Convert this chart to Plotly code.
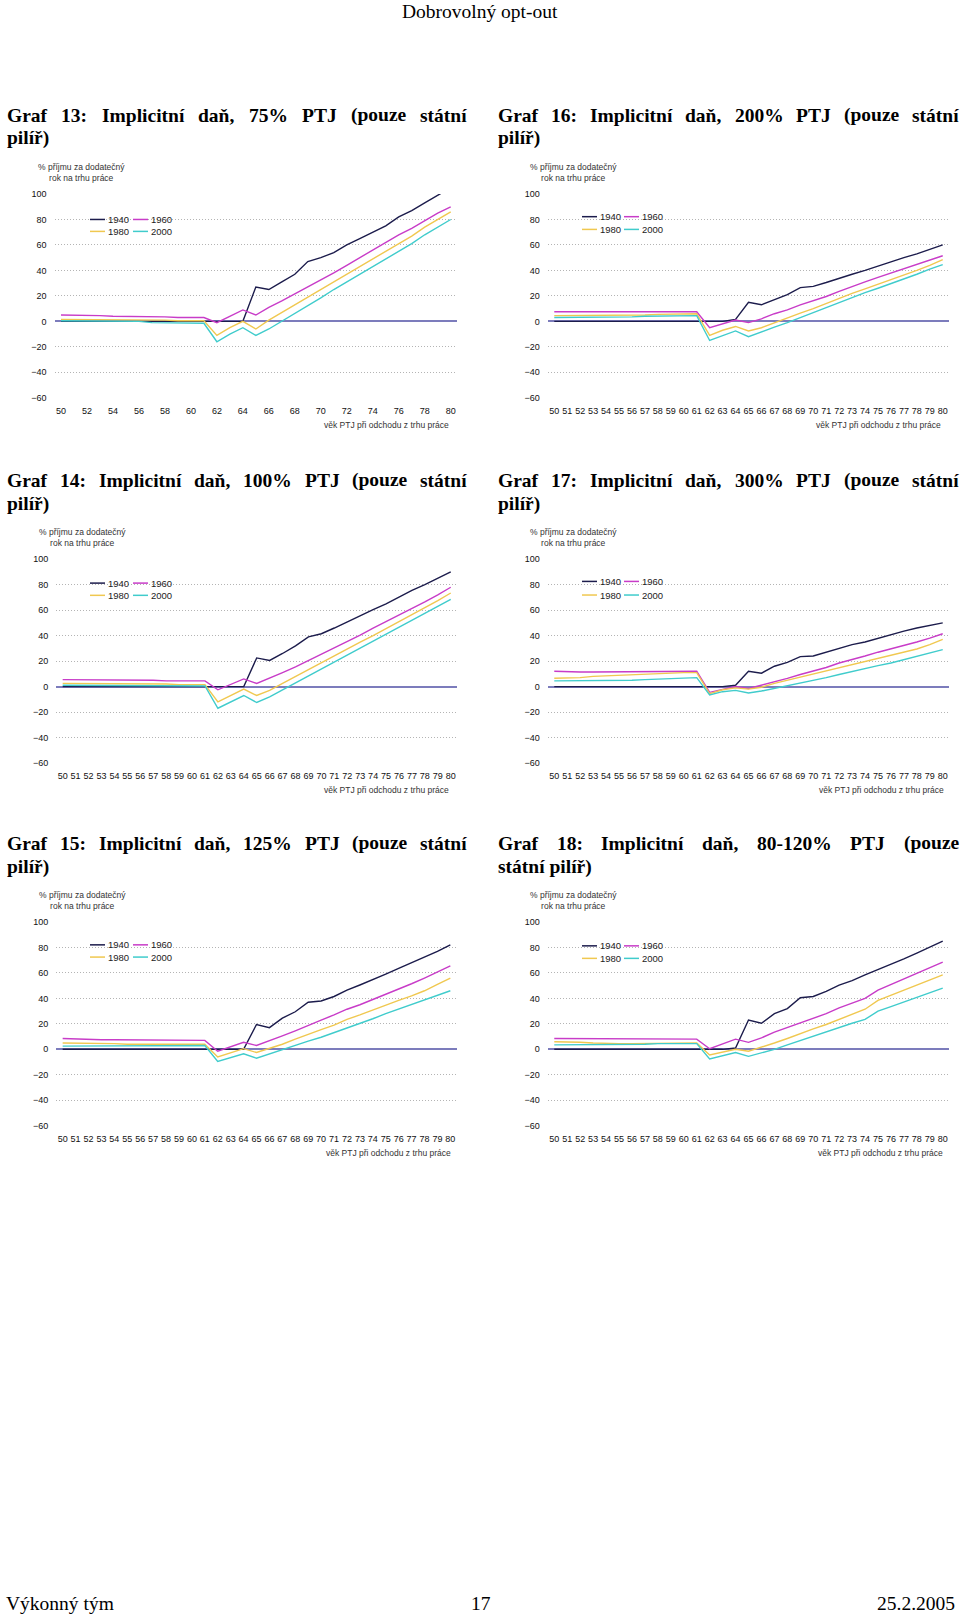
import plotly.graph_objects as go

# ---------------- data ----------------
AGES = list(range(50, 81))
COHORTS = ["1940", "1960", "1980", "2000"]
COLORS = ["#1c1c4c", "#c83cc8", "#f0c850", "#40cccc"]

# Graf 13: 75% PTJ
g13_1940 = [0, 0, 0, 0, 0, 0, 0, 0, 0, 0, 0, 0, 0, 0, 0, 27, 25, 31, 37, 47, 50, 54, 60, 65, 70, 75, 82, 87, 93, 99, 105]
g13_1960 = [5, 5, 4.5, 4.5, 4, 4, 4, 3.5, 3.5, 3, 3, 3, -1, 4, 9, 5, 11, 16, 21.5, 27, 32, 38, 44, 50, 56, 62, 68, 73, 79, 85, 90]
g13_1980 = [1.5, 1.5, 1, 1, 1, 1, 1, 1, 1, 0.5, 0.5, 0.5, -11, -5, 0, -6, 1, 7, 13, 19, 25, 31, 37, 43, 49, 55, 61, 67, 74, 80, 86]
g13_2000 = [0.5, 0.5, 0.5, 0, 0, 0, 0, -1, -1, -1.5, -1.5, -1.5, -16, -10, -5, -11, -6, 0, 6, 12, 18.5, 25, 31, 37, 43, 49, 55, 61, 68, 74, 80]

# Graf 16: 200% PTJ
g16_1940 = [0, 0, 0, 0, 0, 0, 0, 0, 0, 0, 0, 0, 0, 0, 1.5, 15, 13, 17, 21, 26.5, 27.5, 30.5, 34, 37, 40, 43.5, 46.5, 50, 53, 56.5, 60]
g16_1960 = [7.5, 7.5, 7.5, 7, 7, 7, 7, 7, 7.5, 7.5, 7.5, 7.5, -5, -2, 1, -1, 2, 6, 9, 13, 16, 19.5, 23.5, 27.5, 31, 34.5, 38, 41, 44.5, 48, 51.5]
g16_1980 = [4.5, 4.5, 4.5, 5, 5, 5, 5, 5, 5.5, 5.5, 5.5, 6, -11, -7, -4, -7.5, -5, -1, 2.5, 6.5, 10, 14, 18.5, 22, 25.5, 29, 32.5, 36, 40, 44, 48.5]
g16_2000 = [3, 3, 3, 3.5, 3.5, 3.5, 3.5, 4, 4, 4, 4.5, 4.5, -15, -11, -7.5, -12, -8, -4.5, -1, 3, 7, 10.5, 15, 19, 22.5, 26, 29.5, 33, 37, 41, 44.5]

# Graf 14: 100% PTJ
g14_1940 = [0, 0, 0, 0, 0, 0, 0, 0, 0, 0, 0, 0, 0, 0, 0, 22.5, 20.5, 26, 32, 39, 41.5, 46, 51, 55.5, 60.5, 65, 70.5, 75.5, 80, 85, 90]
g14_1960 = [5.5, 5.5, 5.5, 5, 5, 5, 5, 5, 4.5, 4.5, 4.5, 4.5, -2.5, 1.5, 6, 2.5, 6.5, 11, 15.5, 20.5, 25.5, 30, 35.5, 40.5, 46, 51, 56.5, 61.5, 66.5, 72, 78]
g14_1980 = [2.5, 2.5, 2.5, 2.5, 2, 2, 2, 2, 2, 1.5, 1.5, 1.5, -12, -7, -2, -7, -3, 2.5, 8, 13.5, 19, 24, 29.5, 35, 40, 45.5, 50.5, 56, 61.5, 67.5, 73.5]
g14_2000 = [1, 1, 1, 1, 1, 1, 1, 0.5, 0.5, 0.5, 0.5, 0.5, -17, -12, -7, -12.5, -8, -2.5, 3, 8.5, 14, 19.5, 25, 30.5, 36, 41, 46.5, 52, 57.5, 63, 68.5]

# Graf 17: 300% PTJ
g17_1940 = [0, 0, 0, 0, 0, 0, 0, 0, 0, 0, 0, 0, 0, 0, 1, 12, 10.5, 16, 19, 23.5, 24, 27, 30, 33, 35, 38, 41, 43.5, 46, 48, 50]
g17_1960 = [12, 11.5, 11.5, 11.5, 11.5, 11.5, 11.5, 11.5, 11.5, 11.5, 11.5, 12, -4.5, -2, 0, -1.5, 1, 4, 6.5, 9.5, 12, 15, 18.5, 21, 24, 27, 29.5, 32.5, 35, 38, 41.5]
g17_1980 = [6.5, 6.5, 7, 8, 8.5, 9, 9.5, 10, 10.5, 10.5, 11, 11, -5.5, -2.5, -1, -2, -0.5, 2.5, 5, 7.5, 9.5, 12, 15, 17.5, 19.5, 22, 24.5, 27, 29.5, 33, 37]
g17_2000 = [4.5, 4.5, 4.5, 5, 5, 5, 5, 5.5, 6, 6.5, 6.5, 7, -6.5, -4, -3, -5, -3.5, -1.5, 1, 3, 5, 7, 9.5, 12, 14, 16.5, 18.5, 21, 23.5, 26, 29]

# Graf 15: 125% PTJ
g15_1940 = [0, 0, 0, 0, 0, 0, 0, 0, 0, 0, 0, 0, 0, 0, 0, 19.5, 17, 24.5, 29.5, 37, 38, 41.5, 46.5, 50.5, 54.5, 59, 63.5, 68, 72, 77, 82]
g15_1960 = [8.5, 8, 8, 7.5, 7.5, 7.5, 7.5, 7, 7, 7, 7, 7, -1.5, 2, 5.5, 3, 6.5, 10.5, 14.5, 19, 23, 27, 31.5, 35, 39, 43, 47.5, 51.5, 56, 60.5, 65.5]
g15_1980 = [5, 5, 5, 4.5, 4.5, 4, 4, 4, 4, 4, 4, 4, -6, -2.5, 0.5, -2.5, 0.5, 4, 8, 12, 15.5, 19, 23.5, 27, 31, 34.5, 38.5, 42, 46, 51, 56]
g15_2000 = [2.5, 2.5, 2.5, 2.5, 2.5, 2.5, 2.5, 3, 3, 3, 3, 3, -9.5, -6.5, -3.5, -7, -3.5, 0, 3, 6.5, 9.5, 13, 17, 20.5, 24, 28, 31.5, 35, 38.5, 42, 46]

# Graf 18: 80-120% PTJ
g18_1940 = [0, 0, 0, 0, 0, 0, 0, 0, 0, 0, 0, 0, 0, 0, 1, 23, 20.5, 28, 32, 40.5, 41.5, 45.5, 50.5, 54, 58.5, 62.5, 66.5, 71, 75.5, 80, 85]
g18_1960 = [8.5, 8.5, 8, 8, 8, 8, 8, 8, 8, 8, 8, 8, 0.5, 4.5, 8, 5.5, 9, 13.5, 17, 21, 24, 28, 32.5, 36.5, 40, 46.5, 51, 55, 60, 64, 68.5]
g18_1980 = [6, 6, 5.5, 5, 4.5, 4.5, 4.5, 4.5, 5, 5, 5, 5, -4.5, -2, 0, -1.5, 1.5, 5, 8.5, 12.5, 16, 19.5, 23.5, 27.5, 31.5, 38.5, 42.5, 46.5, 50.5, 54.5, 58.5]
g18_2000 = [3.5, 3.5, 3.5, 3.5, 3.5, 4, 4, 4, 4.5, 4.5, 4.5, 4.5, -7.5, -5, -2.5, -5.5, -3, 0, 3.5, 7, 10, 13.5, 17, 20.5, 23.5, 30, 33.5, 37, 41, 44.5, 48]

Y_TICKS = [-60, -40, -20, 0, 20, 40, 60, 80, 100]
Y_TITLE = "% příjmu za dodatečný<br>rok na trhu práce"
X_TITLE = "věk PTJ při odchodu z trhu práce"
HEADER = "Dobrovolný opt-out"
FOOTER_L, FOOTER_C, FOOTER_R = "Výkonný tým", "17", "25.2.2005"

# ---------------- layout helpers ----------------
W, H = 960, 1617
def fx(x): return x / W
def fy(y): return 1 - y / H

SANS = "Liberation Sans, Arial, sans-serif"
SERIF = "Liberation Serif, Times New Roman, serif"

# Times-Bold widths (1/1000 em) for justification of titles
TB = {' ': 250, '%': 1000, '(': 333, ')': 333, ',': 250, '-': 333, ':': 333,
      'G': 778, 'I': 389, 'J': 500, 'P': 611, 'T': 667, 'a': 500, 'c': 444, 'd': 556,
      'e': 444, 'f': 333, 'i': 278, 'l': 278, 'm': 833, 'n': 556, 'o': 500, 'p': 556,
      'r': 444, 's': 389, 't': 333, 'u': 556, 'z': 444, 'á': 500, 'í': 278, 'ň': 556, 'ř': 444}
for d in "0123456789":
    TB[d] = 500
TFS = 19.5

def word_w(w):
    return sum(TB.get(c, 500) for c in w) * TFS / 1000.0

R1 = -2.5  # small vertical correction for the first row
charts = [
    dict(series=[g13_1940, g13_1960, g13_1980, g13_2000], dtick=2,
         xd=(54.5, 457.2), ytop=192.7 + R1, ybot=397.7 + R1,
         t1="Graf 13: Implicitní daň, 75% PTJ (pouze státní", t2="pilíř)", tL=5, tR=465,
         ty=(113.4 + R1, 136 + R1),
         ytc=(81.7, 171.2 + R1), xt=(450.7, 425 + R1), leg=(90, 133, 218.3 + R1, 230.3 + R1)),
    dict(series=[g16_1940, g16_1960, g16_1980, g16_2000], dtick=1,
         xd=(547.8, 949.2), ytop=192.7 + R1, ybot=397.7 + R1,
         t1="Graf 16: Implicitní daň, 200% PTJ (pouze státní", t2="pilíř)", tL=496, tR=957,
         ty=(113.4 + R1, 136 + R1),
         ytc=(573.5, 171.2 + R1), xt=(943.3, 425 + R1), leg=(582, 624, 215.5 + R1, 228.3 + R1)),
    dict(series=[g14_1940, g14_1960, g14_1980, g14_2000], dtick=1,
         xd=(56.2, 457.2), ytop=557.7, ybot=762.7,
         t1="Graf 14: Implicitní daň, 100% PTJ (pouze státní", t2="pilíř)", tL=5, tR=465, ty=(478.4, 502),
         ytc=(82, 536.2), xt=(450.7, 790), leg=(90, 133, 581.7, 594)),
    dict(series=[g17_1940, g17_1960, g17_1980, g17_2000], dtick=1,
         xd=(547.8, 949.2), ytop=557.7, ybot=762.7,
         t1="Graf 17: Implicitní daň, 300% PTJ (pouze státní", t2="pilíř)", tL=496, tR=957, ty=(478.4, 502),
         ytc=(573.5, 536.2), xt=(946, 790), leg=(582, 624, 580, 593.7)),
    dict(series=[g15_1940, g15_1960, g15_1980, g15_2000], dtick=1,
         xd=(56.2, 456.8), ytop=922.7, ybot=1127.7,
         t1="Graf 15: Implicitní daň, 125% PTJ (pouze státní", t2="pilíř)", tL=5, tR=465, ty=(843.4, 867),
         ytc=(82, 901.2), xt=(452.7, 1155), leg=(90, 133, 945.7, 958)),
    dict(series=[g18_1940, g18_1960, g18_1980, g18_2000], dtick=1,
         xd=(547.8, 949.2), ytop=922.7, ybot=1127.7,
         t1="Graf 18: Implicitní daň, 80-120% PTJ (pouze", t2="státní pilíř)", tL=496, tR=957, ty=(843.4, 867),
         ytc=(573, 901.2), xt=(945, 1155), leg=(582, 624, 946.7, 959.3)),
]

fig = go.Figure()
layout = dict(width=W, height=H, margin=dict(l=0, r=0, t=0, b=0),
              paper_bgcolor="white", plot_bgcolor="white", showlegend=False)
annotations = []
shapes = []

def ann(text, x, y, xanchor="left", size=9, family=SANS, color="#222", bold=False):
    annotations.append(dict(text=("<b>%s</b>" % text) if bold else text,
                            x=fx(x), y=fy(y), xref="paper", yref="paper",
                            xanchor=xanchor, yanchor="middle", showarrow=False,
                            font=dict(size=size, family=family, color=color), align="center"))

AXIS_COL = "#7c7cbc"
for k, c in enumerate(charts, start=1):
    x0, x1 = c["xd"]
    ytop, ybot = c["ytop"], c["ybot"]
    zero_px = ytop + (100 / 160.0) * (ybot - ytop)
    tickfont = dict(size=9, family=SANS, color="#111")
    layout["xaxis%d" % k] = dict(domain=[fx(x0), fx(x1)], range=[49.5, 80.5], anchor="y%d" % k,
                                 tickmode="linear", tick0=50, dtick=c["dtick"], showgrid=False,
                                 zeroline=False, showline=False, ticks="", tickfont=tickfont,
                                 ticklabelstandoff=6, fixedrange=True)
    layout["yaxis%d" % k] = dict(domain=[fy(ybot), fy(ytop)], range=[-60, 100], anchor="x%d" % k,
                                 tickmode="array", tickvals=Y_TICKS, showgrid=True, gridcolor="#b4b4b4",
                                 griddash="1px,2px", gridwidth=1, zeroline=True, zerolinecolor=AXIS_COL,
                                 zerolinewidth=1.5, showline=False, ticks="", tickfont=tickfont,
                                 ticklabelstandoff=7, fixedrange=True)
    layout["xaxis%d" % (k + 6)] = dict(overlaying="x%d" % k, anchor="free", position=fy(zero_px),
                                       range=[49.5, 80.5], showline=True, linecolor=AXIS_COL, linewidth=1.5,
                                       ticks="outside", ticklen=3, tickwidth=1, tickcolor=AXIS_COL,
                                       tickmode="array", tickvals=[a - 0.5 for a in AGES] + [80.5],
                                       showticklabels=False, showgrid=False, zeroline=False, fixedrange=True)
    for name, vals, col in zip(COHORTS, c["series"], COLORS):
        fig.add_trace(go.Scatter(x=AGES, y=vals, mode="lines", name=name,
                                 line=dict(color=col, width=1.4),
                                 xaxis="x%d" % k, yaxis="y%d" % k, showlegend=False,
                                 hoverinfo="skip"))

    # titles (justified first line)
    words = c["t1"].split(" ")
    widths = [word_w(w) for w in words]
    gap = (c["tR"] - c["tL"] - sum(widths)) / (len(words) - 1)
    xpos = c["tL"]
    for w, ww in zip(words, widths):
        ann(w, xpos, c["ty"][0], size=TFS, family=SERIF, color="black", bold=True)
        xpos += ww + gap
    ann(c["t2"], c["tL"], c["ty"][1], size=TFS, family=SERIF, color="black", bold=True)

    # axis titles
    ann(Y_TITLE, c["ytc"][0], c["ytc"][1], xanchor="center", size=8.5, color="#333")
    ann(X_TITLE, c["xt"][0], c["xt"][1], xanchor="right", size=8.5, color="#333")

    # legend (2 x 2)
    lx1, lx2, ly1, ly2 = c["leg"]
    for i, (name, col) in enumerate(zip(COHORTS, COLORS)):
        lx = lx1 if i % 2 == 0 else lx2
        ly = ly1 if i < 2 else ly2
        shapes.append(dict(type="line", xref="paper", yref="paper",
                           x0=fx(lx), x1=fx(lx + 15), y0=fy(ly), y1=fy(ly),
                           line=dict(color=col, width=1.5)))
        ann(name, lx + 15.5, ly, size=9.5, color="#222")

# header / footer
ann(HEADER, 480, 6.5, xanchor="center", size=19.5, family=SERIF, color="black")
ann(FOOTER_L, 4, 1608, size=19.5, family=SERIF, color="black")
ann(FOOTER_C, 480.5, 1608, xanchor="center", size=19.5, family=SERIF, color="black")
ann(FOOTER_R, 957, 1608, xanchor="right", size=19.5, family=SERIF, color="black")

layout["annotations"] = annotations
layout["shapes"] = shapes
fig.update_layout(**layout)
fig.write_html("out.html", config={"displayModeBar": False},
               post_script="document.body.style.margin='0';document.body.style.padding='0';"
                           "document.body.style.overflow='hidden';")
